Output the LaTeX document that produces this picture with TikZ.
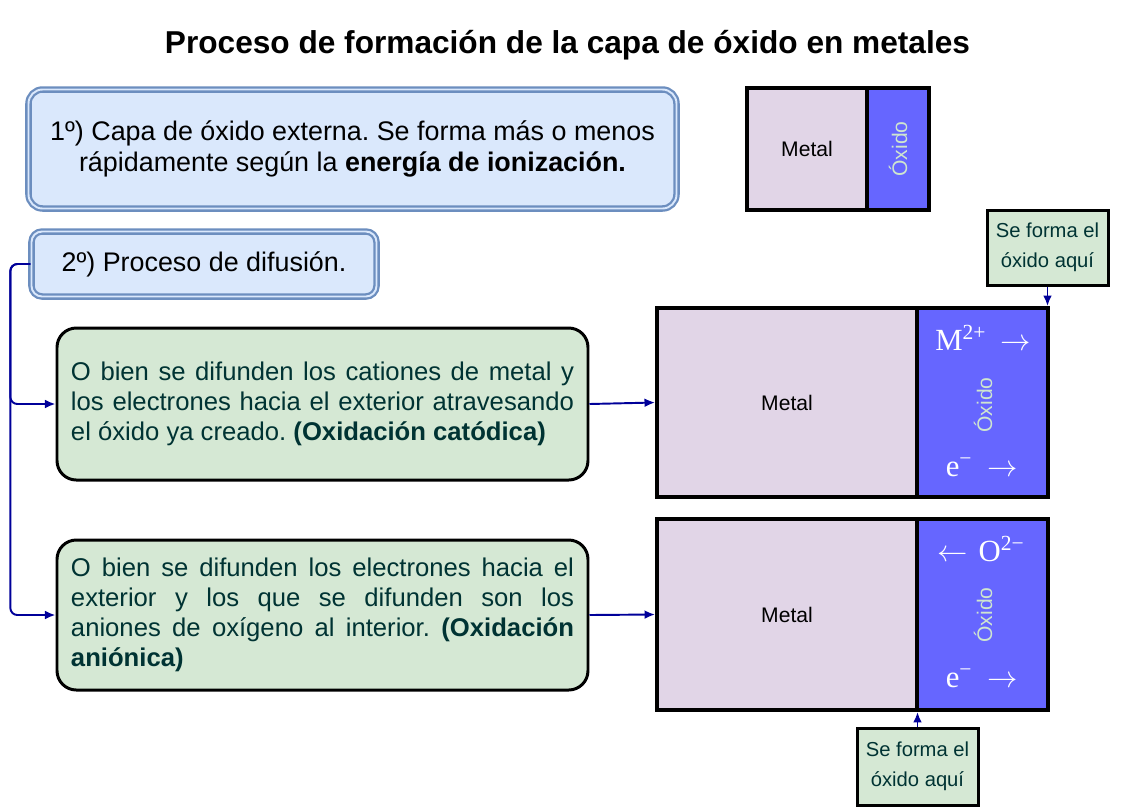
\documentclass[tikz,border=0pt]{standalone}
\usepackage{fontspec}
\setmainfont{Liberation Sans}
\newfontfamily\ionfont{Liberation Serif}
\usetikzlibrary{arrows.meta}
\definecolor{boxblue}{HTML}{DAE8FC}
\definecolor{lineblue}{HTML}{6C8EBF}
\definecolor{boxgreen}{HTML}{D5E8D4}
\definecolor{metalfill}{HTML}{E1D5E7}
\definecolor{oxfill}{HTML}{6666FF}
\definecolor{oxtext}{HTML}{CFE6CF}
\definecolor{tealtext}{HTML}{003333}
\definecolor{navy}{HTML}{000099}
\frenchspacing
\hyphenpenalty=10000
\exhyphenpenalty=10000

\begin{document}
\begin{tikzpicture}[
  stepbox/.style={draw=lineblue,double=boxblue,double distance=1.1pt,line width=1.3pt,
    fill=boxblue,inner sep=0pt,align=center,font=\fontsize{15.3}{18}\selectfont},
  greenbox/.style={draw=black,line width=1.7pt,fill=boxgreen,rounded corners=11pt,
    text=tealtext,align=justify,text width=10.06cm,inner xsep=0.28cm,minimum width=10.62cm,
    font=\fontsize{14.6}{17}\selectfont},
  metalbox/.style={draw=black,line width=2.2pt,fill=metalfill,inner sep=0pt,
    font=\fontsize{12}{14}\selectfont},
  oxbox/.style={draw=black,line width=2.2pt,fill=oxfill,inner sep=0pt},
  oxlabel/.style={rotate=90,text=oxtext,font=\fontsize{12}{14}\selectfont},
  ion/.style={text=white,font=\ionfont\fontsize{17.5}{20}\selectfont},
  herebox/.style={draw=black,line width=1.7pt,fill=boxgreen,text=tealtext,align=center,
    minimum width=2.42cm,inner sep=0pt,font=\fontsize{11.5}{17}\selectfont},
  link/.style={navy,line width=1.1pt,-{Latex[length=6pt,width=5pt]}}
]
\useasboundingbox (0,0) rectangle (22.42,-16.18);

% titulo
\node[font=\bfseries\fontsize{18}{22}\selectfont] (title) at (11.35,-0.90)
  {Proceso de formación de la capa de óxido en metales};

% paso 1
\node[stepbox,rounded corners=8pt,minimum width=12.96cm,minimum height=2.38cm] (step1) at (7.05,-2.98)
  {1º) Capa de óxido externa. Se forma más o menos\\rápidamente según la \textbf{energía de ionización.}};
\node[metalbox,minimum width=2.4cm,minimum height=2.44cm] (met0) at (16.14,-2.98) {Metal};
\node[oxbox,minimum width=1.24cm,minimum height=2.44cm] (ox0) at (17.96,-2.98) {};
\node[oxlabel] (oxl0) at (ox0.center) {Óxido};

% paso 2
\node[stepbox,rounded corners=6pt,minimum width=6.90cm,minimum height=1.30cm] (step2) at (4.08,-5.28)
  {2º) Proceso de difusión.};

\node[greenbox,minimum height=3.04cm] (grA) at (6.45,-8.08)
  {O bien se difunden los cationes de metal y los electrones hacia el exterior atravesando el óxido ya creado. \textbf{(Oxidación catódica)}};
\node[greenbox,minimum height=3.00cm] (grB) at (6.45,-12.30)
  {O bien se difunden los electrones hacia el\linebreak exterior y los que se difunden son los\linebreak aniones de oxígeno al interior. \textbf{(Oxidación aniónica)}};

% oxidacion catodica
\node[metalbox,minimum width=5.2cm,minimum height=3.78cm] (metA) at (15.74,-8.05) {Metal};
\node[oxbox,minimum width=2.62cm,minimum height=3.78cm] (oxA) at (19.65,-8.05) {};
\node[oxlabel] (oxlA) at (19.66,-8.10) {Óxido};
\node[ion] (ionA) at (19.66,-6.76) {M\textsuperscript{2+}\hspace{0.45em}$\rightarrow$};
\node[ion] (elA) at (19.64,-9.34) {e\textsuperscript{−}\hspace{0.5em}$\rightarrow$};
\node[herebox,minimum height=1.5cm] (hereA) at (20.95,-4.95) {Se forma el\\óxido aquí};

% oxidacion anionica
\node[metalbox,minimum width=5.2cm,minimum height=3.82cm] (metB) at (15.74,-12.29) {Metal};
\node[oxbox,minimum width=2.62cm,minimum height=3.82cm] (oxB) at (19.65,-12.29) {};
\node[oxlabel] (oxlB) at (19.66,-12.30) {Óxido};
\node[ion] (ionB) at (19.62,-10.98) {$\leftarrow$\hspace{0.35em}O\textsuperscript{2−}};
\node[ion] (elB) at (19.64,-13.56) {e\textsuperscript{−}\hspace{0.5em}$\rightarrow$};
\node[herebox,minimum height=1.54cm] (hereB) at (18.35,-15.33) {Se forma el\\óxido aquí};

% conectores
\draw[link,rounded corners=4pt] (step2.west) -- ++(-0.4,0) |- (grA.west);
\draw[link,rounded corners=4pt] (step2.west) -- ++(-0.4,0) |- (grB.west);
\draw[link] (grA.east) -- (metA.west);
\draw[link] (grB.east) -- (metB.west);
\draw[link] (hereA.south) -- (hereA.south |- oxA.north);
\draw[link] (hereB.north) -- (hereB.north |- metB.south);
\end{tikzpicture}
\end{document}
